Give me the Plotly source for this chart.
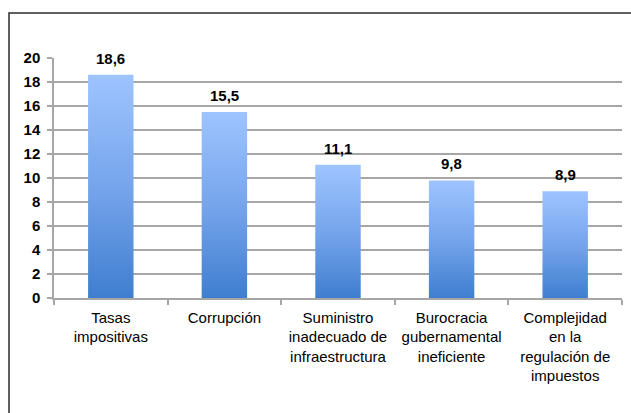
import plotly.graph_objects as go

categories = ["Tasas<br>impositivas", "Corrupción", "Suministro<br>inadecuado de<br>infraestructura",
              "Burocracia<br>gubernamental<br>ineficiente", "Complejidad<br>en la<br>regulación de<br>impuestos"]
values = [18.6, 15.5, 11.1, 9.8, 8.9]
value_labels = ["18,6", "15,5", "11,1", "9,8", "8,9"]

FONT = "Liberation Sans, Arial, Helvetica, sans-serif"
BAR_W = 0.40

fig = go.Figure()
for i, (v, lab) in enumerate(zip(values, value_labels)):
    fig.add_trace(go.Scatter(
        x=[i - BAR_W / 2, i + BAR_W / 2, i + BAR_W / 2, i - BAR_W / 2, i - BAR_W / 2],
        y=[0, 0, v, v, 0],
        mode="lines", line=dict(width=0, color="rgba(0,0,0,0)"),
        fill="toself",
        fillgradient=dict(type="vertical",
                          colorscale=[[0, "#3F7ECF"], [0.5, "#76A5EC"], [1, "#9EC4FF"]]),
        hoverinfo="skip", showlegend=False,
    ))
    fig.add_annotation(x=i, y=v, text="<b>%s</b>" % lab, showarrow=False,
                       xanchor="center", yanchor="bottom", yshift=6,
                       font=dict(family=FONT, size=15, color="#000000"))

fig.update_layout(
    width=631, height=413,
    margin=dict(l=54, r=9, t=58, b=115),
    paper_bgcolor="white", plot_bgcolor="white",
    font=dict(family=FONT, color="#000000"),
    xaxis=dict(
        range=[-0.5, len(values) - 0.5],
        tickmode="array", tickvals=list(range(len(values))), ticktext=categories,
        ticks="", showgrid=False, zeroline=False,
        showline=True, linecolor="#A6A6A6", linewidth=1.5,
        tickfont=dict(family=FONT, size=15, color="#000000"),
        ticklabelstandoff=5,
        minor=dict(tickmode="linear", tick0=0.5, dtick=1, ticks="outside",
                   ticklen=5, tickcolor="#A6A6A6", tickwidth=1.5, showgrid=False),
        fixedrange=True,
    ),
    yaxis=dict(
        range=[0, 20], dtick=2, tick0=0,
        ticks="outside", ticklen=5, tickcolor="#A6A6A6", tickwidth=1.5,
        showline=True, linecolor="#A6A6A6", linewidth=1.5,
        showgrid=True, gridcolor="#A6A6A6", gridwidth=1.5,
        zeroline=False,
        tickfont=dict(family=FONT, size=15, color="#000000"),
        tickprefix="<b>", ticksuffix="</b>",
        ticklabelstandoff=4,
        fixedrange=True,
    ),
    shapes=[dict(type="rect", xref="paper", yref="paper",
                 x0=(9 - 54) / 568, x1=(640 - 54) / 568,
                 y0=(298 - 430) / 240, y1=(298 - 13) / 240,
                 line=dict(color="#2B2B2B", width=1.5), fillcolor="rgba(0,0,0,0)", layer="above")],
)

fig.write_html("out.html")
